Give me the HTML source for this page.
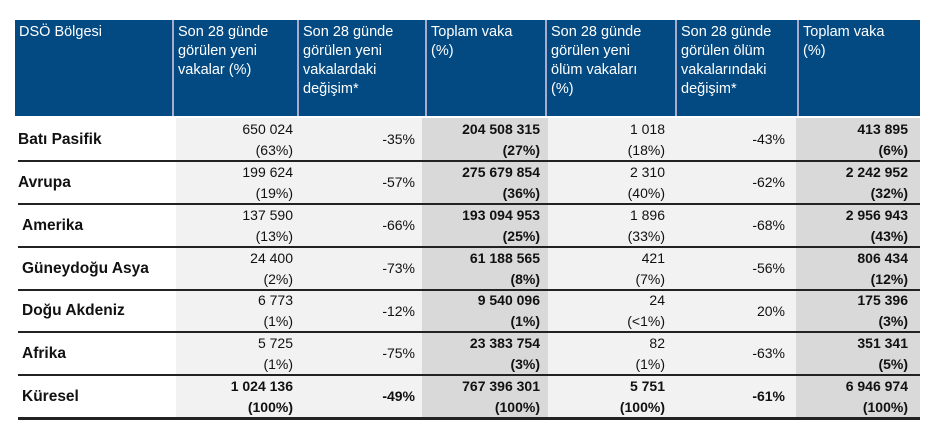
<!DOCTYPE html>
<html><head><meta charset="utf-8"><style>
body{margin:0;width:944px;height:431px;background:#fff;position:relative;overflow:hidden;font-family:"Liberation Sans",sans-serif}
.hd{position:absolute;top:20px;height:96px;background:#034a83;color:#fff;font-size:14.5px;line-height:19px;padding:3px 6px 0 4px;box-sizing:border-box;border-left:2px solid #aac}
.c{position:absolute;box-sizing:border-box;text-align:right;font-size:14px;line-height:21px;padding-right:4px;color:#111;display:flex;flex-direction:column;justify-content:center;align-items:flex-end}
.c div{white-space:nowrap}
.n{position:absolute;left:18px;font-weight:bold;font-size:15.5px;color:#111;display:flex;align-items:center}
.l{position:absolute;left:18px;width:902px;height:2px;background:#222}
</style></head><body>
<div class="hd" style="left:15px;width:158px;border-left:none">DSÖ Bölgesi</div>
<div class="hd" style="left:172px;width:126px">Son 28 günde görülen yeni vakalar (%)</div>
<div class="hd" style="left:297px;width:129px">Son 28 günde görülen yeni vakalardaki değişim*</div>
<div class="hd" style="left:425px;width:121px;padding-right:20px">Toplam vaka (%)</div>
<div class="hd" style="left:545px;width:131px;padding-right:24px">Son 28 günde görülen yeni ölüm vakaları (%)</div>
<div class="hd" style="left:675px;width:123px">Son 28 günde görülen ölüm vakalarındaki değişim*</div>
<div class="hd" style="left:797px;width:123px;padding-right:20px">Toplam vaka (%)</div>
<div style="position:absolute;left:176px;top:118px;width:246px;height:300px;background:#f2f2f2"></div>
<div style="position:absolute;left:422px;top:118px;width:126px;height:300px;background:#d9d9d9"></div>
<div style="position:absolute;left:548px;top:118px;width:248px;height:300px;background:#f2f2f2"></div>
<div style="position:absolute;left:796px;top:118px;width:124px;height:300px;background:#d9d9d9"></div>
<div id="rows"></div>
<script>
var d=[["Batı Pasifik","650 024","(63%)","-35%","204 508 315","(27%)","1 018","(18%)","-43%","413 895","(6%)"],
["Avrupa","199 624","(19%)","-57%","275 679 854","(36%)","2 310","(40%)","-62%","2 242 952","(32%)"],
["Amerika","137 590","(13%)","-66%","193 094 953","(25%)","1 896","(33%)","-68%","2 956 943","(43%)"],
["Güneydoğu Asya","24 400","(2%)","-73%","61 188 565","(8%)","421","(7%)","-56%","806 434","(12%)"],
["Doğu Akdeniz","6 773","(1%)","-12%","9 540 096","(1%)","24","(&lt;1%)","20%","175 396","(3%)"],
["Afrika","5 725","(1%)","-75%","23 383 754","(3%)","82","(1%)","-63%","351 341","(5%)"],
["Küresel","1 024 136","(100%)","-49%","767 396 301","(100%)","5 751","(100%)","-61%","6 946 974","(100%)"]];
var tops=[118,161,204,247,290,332,375],h="";
d.forEach(function(r,i){var t=tops[i],ht=(i<6?tops[i+1]:418)-t,g=i==6;
function D(x,b){return '<div'+((g||b)?' style="font-weight:bold"':'')+'>'+x+'</div>'}
function C(l,w,inner){return '<div class="c" style="left:'+l+'px;width:'+w+'px;top:'+t+'px;height:'+ht+'px">'+inner+'</div>'}
h+='<div class="n" style="top:'+t+'px;height:'+ht+'px;'+(i>=2?'left:22px':'')+'">'+r[0]+'</div>';
h+=C(176,121,D(r[1])+D(r[2]));
h+=C(297,122,D(r[3]));
h+=C(422,122,D(r[4],1)+D(r[5],1));
h+=C(548,121,D(r[6])+D(r[7]));
h+=C(675,114,D(r[8]));
h+=C(796,116,D(r[9],1)+D(r[10],1));
if(i>0)h+='<div class="l" style="top:'+(t-1)+'px"></div>';});
h+='<div class="l" style="top:417px;height:3px"></div>';
document.getElementById("rows").innerHTML=h;
</script>
</body></html>
